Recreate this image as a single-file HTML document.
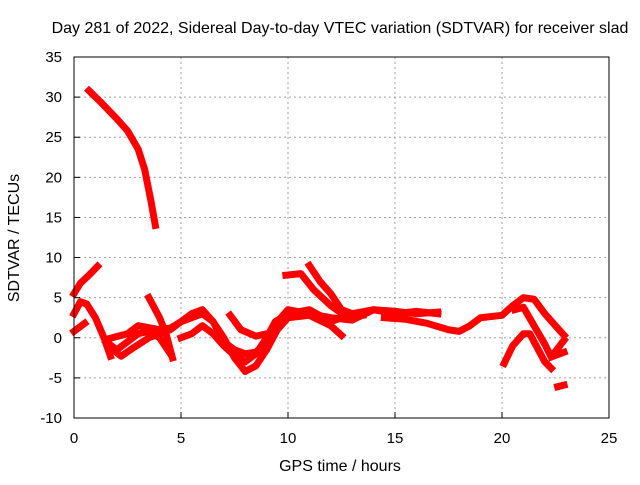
<!DOCTYPE html>
<html><head><meta charset="utf-8"><style>
body{margin:0;background:#fff;}
svg text{font-family:"Liberation Sans",sans-serif;font-size:16px;fill:#000;}
svg text.tk{font-size:15px;}
</style></head><body>
<svg id="chart" width="640" height="480" xmlns="http://www.w3.org/2000/svg">
<g id="grid"></g>
<g id="series"></g>
<rect x="74" y="57" width="535" height="361" fill="none" stroke="#000" stroke-width="1"/>
<g id="ticks"></g>
<text x="340" y="33" text-anchor="middle">Day 281 of 2022, Sidereal Day-to-day VTEC variation (SDTVAR) for receiver slad</text>
<text x="340" y="471" text-anchor="middle">GPS time / hours</text>
<text transform="translate(19,238) rotate(-90)" text-anchor="middle">SDTVAR / TECUs</text>
</svg>
<script>
const xTicks=[0,5,10,15,20,25];
const yTicks=[-10,-5,0,5,10,15,20,25,30,35];
const t1=[[0.7,30.8],[1.2,29.5],[2,27.3],[2.5,25.8],[3,23.5],[3.3,21],[3.6,17],[3.8,14]];
const t2=[[0,5.5],[0.3,6.8],[0.7,7.8],[1.1,8.9]];
const t3=[[0,3],[0.3,4.5],[0.6,4.2],[1,2.5],[1.4,0],[1.7,-2.3]];
const t4=[[0,0.8],[0.5,1.8]];
const t5=[[1.5,-0.5],[2,-1.5],[2.5,-0.5],[3,0.5],[3.5,0.8],[4,0],[4.5,-2]];
const t6=[[3.5,5],[4,2.5],[4.3,0.5],[4.6,-2.5]];
const t7=[[1.6,-1],[2.2,-2.3],[2.8,-1.2],[3.5,0],[4,0.5],[4.5,1],[5,2],[5.5,3],[6,3.5],[6.5,2],[7,0],[7.5,-2.5],[8,-4.2],[8.5,-3.5],[9,-1.5],[9.5,1],[10,2.5],[11,2.8],[12,1.5],[12.5,0.3]];
const t8=[[1.5,-0.2],[2.5,0.5],[3,1.5],[4,1],[4.5,1.2],[5,2],[5.5,2.5],[6,3],[6.5,2],[7,-0.5],[7.5,-1.5],[8,-2],[8.5,-1.8],[9,-0.5],[9.5,2],[10,3.5],[11,3],[12,2.5],[13,2.2],[14,3.5],[15,3],[16,3.3],[17,3]];
const t9=[[5,0],[5.5,0.5],[6,1.5],[6.5,0.5],[7,-1],[7.5,-2.2],[8,-3],[8.5,-2],[9,0],[9.4,2],[10,3],[11,3.5],[12,2],[13,3],[14,3.5],[15,3.3],[16,3],[17,3.2]];
const t10=[[7.3,2.8],[7.8,1],[8.5,0.2],[9,0.5],[9.3,0.3]];
const t11=[[9.9,7.8],[10.6,8],[11.2,6],[12,4],[12.8,2.5],[13.5,2.8]];
const t12=[[11,9],[11.5,7],[12,5.5],[12.5,3.5],[13.2,2.8]];
const t13=[[14.5,2.5],[15.5,2.3],[16.5,1.8],[17.5,1],[18,0.8],[18.5,1.5],[19,2.5],[20,2.8],[20.5,4],[21,5],[21.5,4.8],[22,3],[22.5,1.5],[22.9,0.3]];
const t14=[[20.1,-3.2],[20.5,-1],[21,0.5],[21.3,0.5],[21.6,-1],[22,-3],[22.3,-3.8]];
const t15=[[20.6,3.5],[21,3.8],[21.5,1.5],[22,-0.8],[22.3,-2.4],[22.9,-0.3]];
const t16=[[22.3,-2.4],[22.9,-1.8]];
const t17=[[22.6,-6.1],[22.9,-5.9]];
const tracks=[t1,t2,t3,t4,t5,t6,t7,t8,t9,t10,t11,t12,t13,t14,t15,t16,t17];
const X=h=>74+h*21.4, Y=v=>57+(35-v)*8.022;
const NS="http://www.w3.org/2000/svg";
const grid=document.getElementById('grid'),ticks=document.getElementById('ticks'),ser=document.getElementById('series');
function mk(tag,attrs,parent){const e=document.createElementNS(NS,tag);for(const k in attrs)e.setAttribute(k,attrs[k]);parent.appendChild(e);return e;}
xTicks.forEach(t=>{const x=X(t);
 if(t>0&&t<25){const g=mk('line',{x1:x,x2:x,y1:57,y2:418,stroke:'#a0a0a0','stroke-dasharray':'2,3'},grid);
 
 }
 const l=mk('line',{x1:x,x2:x,y1:418,y2:412,stroke:'#000'},ticks);
 
 
 const tx=mk('text',{x:x,y:443,'text-anchor':'middle','class':'tk'},ticks);tx.textContent=t;
 
 
});
yTicks.forEach(t=>{const y=Y(t);
 if(t>-10&&t<35){const g=mk('line',{x1:74,x2:609,y1:y,y2:y,stroke:'#a0a0a0','stroke-dasharray':'2,3'},grid);
 
 }
 const l=mk('line',{x1:74,x2:80,y1:y,y2:y,stroke:'#000'},ticks);
 
 
 const tx=mk('text',{x:62,y:y+5,'text-anchor':'end','class':'tk'},ticks);tx.textContent=t;
 
 
});
tracks.forEach(tr=>{
 const p=mk('polyline',{points:tr.map(d=>X(d[0])+','+Y(d[1])).join(' '),fill:'none',stroke:'#ff0000','stroke-width':7,'stroke-linejoin':'round','stroke-linecap':'square'},ser);
 
 
});
</script>
</body></html>
